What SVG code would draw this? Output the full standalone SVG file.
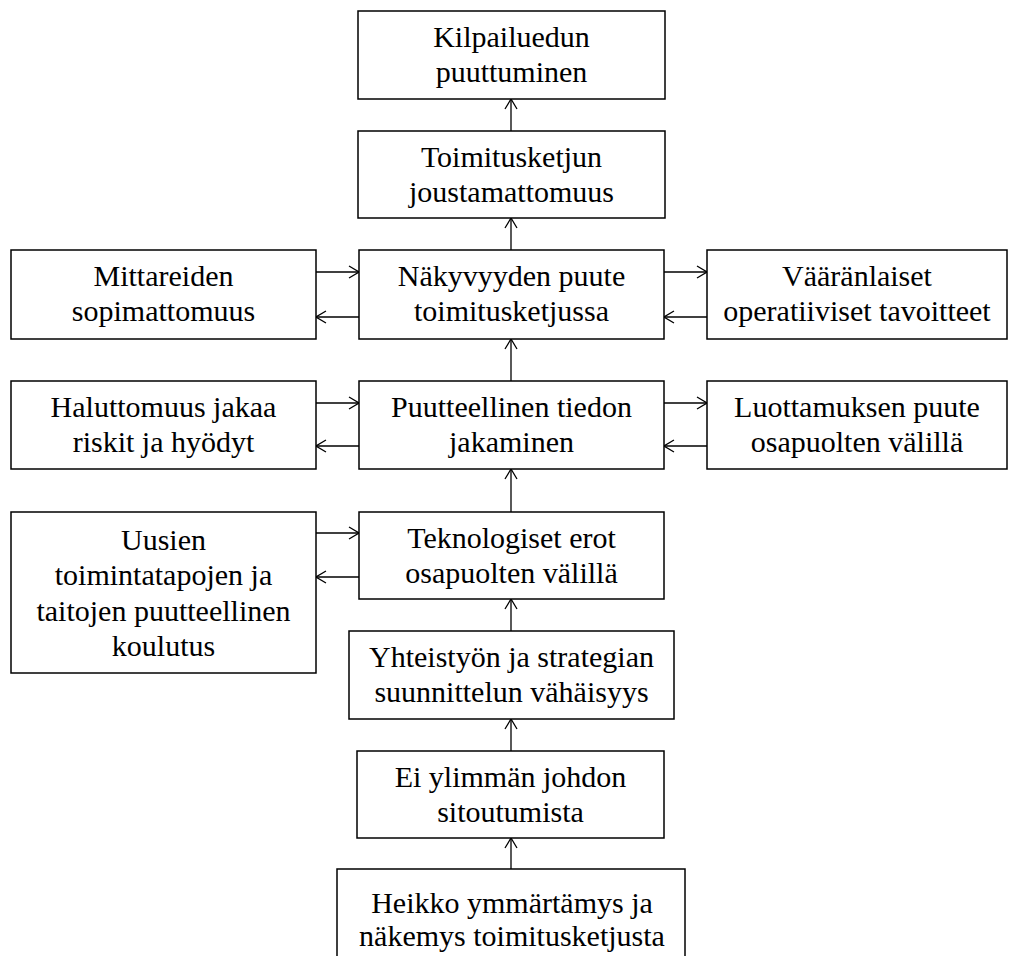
<svg xmlns="http://www.w3.org/2000/svg" width="1009" height="956" viewBox="0 0 1009 956">
  <defs>
    <style>
      .box { fill: #ffffff; stroke: #000000; stroke-width: 1.5; }
      .lbl { font-family: "Liberation Serif", "Times New Roman", serif; font-size: 30px; fill: #000000; text-anchor: middle; }
      .link { fill: none; stroke: #000000; stroke-width: 1.3; }
    </style>
    <marker id="open-arrow" viewBox="0 0 12 14" refX="11" refY="7" markerWidth="12" markerHeight="14" markerUnits="userSpaceOnUse" orient="auto">
      <path d="M1,1 L11,7 L1,13" fill="none" stroke="#000000" stroke-width="1.3"/>
    </marker>
  </defs>
  <rect width="1009" height="956" fill="#ffffff"/>

  <!-- connectors -->
  <g id="connectors" class="link">
    <!-- main vertical chain, x = 511 -->
    <line x1="511" y1="131" x2="511" y2="99" marker-end="url(#open-arrow)"/>
    <line x1="511" y1="250" x2="511" y2="218" marker-end="url(#open-arrow)"/>
    <line x1="511" y1="381" x2="511" y2="339" marker-end="url(#open-arrow)"/>
    <line x1="511" y1="512" x2="511" y2="469" marker-end="url(#open-arrow)"/>
    <line x1="511" y1="631" x2="511" y2="599" marker-end="url(#open-arrow)"/>
    <line x1="511" y1="751" x2="511" y2="719" marker-end="url(#open-arrow)"/>
    <line x1="511" y1="869" x2="511" y2="838" marker-end="url(#open-arrow)"/>
    <!-- row 3 side links -->
    <line x1="316" y1="272" x2="359" y2="272" marker-end="url(#open-arrow)"/>
    <line x1="359" y1="317" x2="316" y2="317" marker-end="url(#open-arrow)"/>
    <line x1="664" y1="272" x2="707" y2="272" marker-end="url(#open-arrow)"/>
    <line x1="707" y1="317" x2="664" y2="317" marker-end="url(#open-arrow)"/>
    <!-- row 4 side links -->
    <line x1="316" y1="403" x2="359" y2="403" marker-end="url(#open-arrow)"/>
    <line x1="359" y1="446" x2="316" y2="446" marker-end="url(#open-arrow)"/>
    <line x1="664" y1="403" x2="707" y2="403" marker-end="url(#open-arrow)"/>
    <line x1="707" y1="446" x2="664" y2="446" marker-end="url(#open-arrow)"/>
    <!-- row 5 side links -->
    <line x1="316" y1="533" x2="359" y2="533" marker-end="url(#open-arrow)"/>
    <line x1="359" y1="577" x2="316" y2="577" marker-end="url(#open-arrow)"/>
  </g>

  <!-- nodes -->
  <g id="kilpailuedun">
    <rect class="box" x="358" y="11" width="307" height="88"/>
    <text class="lbl" x="511.5" y="47">Kilpailuedun</text>
    <text class="lbl" x="511.5" y="82">puuttuminen</text>
  </g>
  <g id="toimitusketjun">
    <rect class="box" x="358" y="131" width="307" height="87"/>
    <text class="lbl" x="511.5" y="167">Toimitusketjun</text>
    <text class="lbl" x="511.5" y="202">joustamattomuus</text>
  </g>
  <g id="mittareiden">
    <rect class="box" x="11" y="250" width="305" height="89"/>
    <text class="lbl" x="163.5" y="286">Mittareiden</text>
    <text class="lbl" x="163.5" y="321">sopimattomuus</text>
  </g>
  <g id="nakyvyyden">
    <rect class="box" x="359" y="250" width="305" height="89"/>
    <text class="lbl" x="511.5" y="286">Näkyvyyden puute</text>
    <text class="lbl" x="511.5" y="321">toimitusketjussa</text>
  </g>
  <g id="vaaranlaiset">
    <rect class="box" x="707" y="250" width="300" height="89"/>
    <text class="lbl" x="857" y="286">Vääränlaiset</text>
    <text class="lbl" x="857" y="321">operatiiviset tavoitteet</text>
  </g>
  <g id="haluttomuus">
    <rect class="box" x="11" y="381" width="305" height="88"/>
    <text class="lbl" x="163.5" y="417">Haluttomuus jakaa</text>
    <text class="lbl" x="163.5" y="452">riskit ja hyödyt</text>
  </g>
  <g id="puutteellinen">
    <rect class="box" x="359" y="381" width="305" height="88"/>
    <text class="lbl" x="511.5" y="417">Puutteellinen tiedon</text>
    <text class="lbl" x="511.5" y="452">jakaminen</text>
  </g>
  <g id="luottamuksen">
    <rect class="box" x="707" y="381" width="300" height="88"/>
    <text class="lbl" x="857" y="417">Luottamuksen puute</text>
    <text class="lbl" x="857" y="452">osapuolten välillä</text>
  </g>
  <g id="uusien">
    <rect class="box" x="11" y="512" width="305" height="161"/>
    <text class="lbl" x="163.5" y="550">Uusien</text>
    <text class="lbl" x="163.5" y="585">toimintatapojen ja</text>
    <text class="lbl" x="163.5" y="621">taitojen puutteellinen</text>
    <text class="lbl" x="163.5" y="656">koulutus</text>
  </g>
  <g id="teknologiset">
    <rect class="box" x="359" y="512" width="305" height="87"/>
    <text class="lbl" x="511.5" y="548">Teknologiset erot</text>
    <text class="lbl" x="511.5" y="583">osapuolten välillä</text>
  </g>
  <g id="yhteistyon">
    <rect class="box" x="349" y="631" width="325" height="88"/>
    <text class="lbl" x="511.5" y="667">Yhteistyön ja strategian</text>
    <text class="lbl" x="511.5" y="702">suunnittelun vähäisyys</text>
  </g>
  <g id="ylimman-johdon">
    <rect class="box" x="357" y="751" width="307" height="87"/>
    <text class="lbl" x="510.5" y="787">Ei ylimmän johdon</text>
    <text class="lbl" x="510.5" y="822">sitoutumista</text>
  </g>
  <g id="heikko">
    <rect class="box" x="337" y="869" width="348" height="110"/>
    <text class="lbl" x="512" y="913">Heikko ymmärtämys ja</text>
    <text class="lbl" x="512" y="946">näkemys toimitusketjusta</text>
  </g>
</svg>
